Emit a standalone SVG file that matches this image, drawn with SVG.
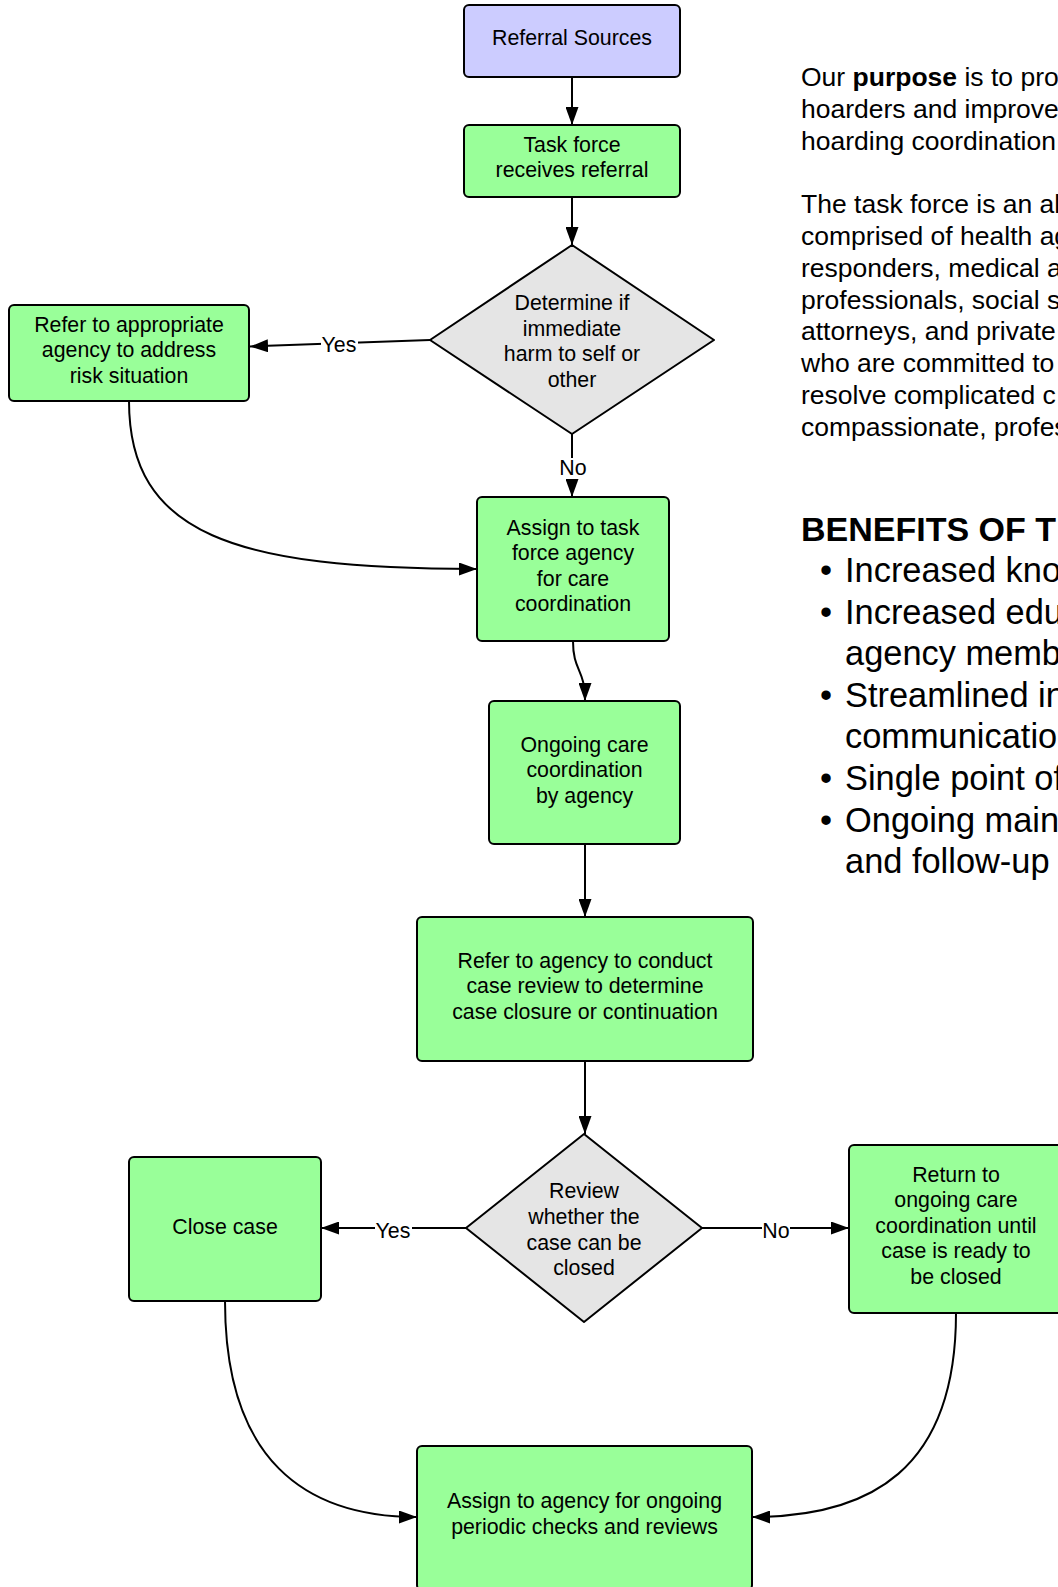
<svg xmlns="http://www.w3.org/2000/svg" width="1058" height="1587" viewBox="0 0 1058 1587">
<defs>
<marker id="arr" markerUnits="userSpaceOnUse" markerWidth="18" markerHeight="13" refX="18" refY="6.5" orient="auto">
<path d="M0,0 L18,6.5 L0,13 z" fill="#000"/>
</marker>
<style>
.box{fill:#99ff99;stroke:#000;stroke-width:2}
.src{fill:#ccccff;stroke:#000;stroke-width:2}
.dia{fill:#e5e5e5;stroke:#000;stroke-width:2;stroke-linejoin:round}
.t{font-family:"Liberation Sans",Arial,sans-serif;font-size:21.33px;fill:#000;text-anchor:middle}
.c{fill:none;stroke:#000;stroke-width:2;marker-end:url(#arr)}
.lbg{fill:#fff}
.p{font-family:"Liberation Sans",Arial,sans-serif;font-size:26.5px;fill:#000}
.h{font-family:"Liberation Sans",Arial,sans-serif;font-size:34px;font-weight:bold;fill:#000}
.b{font-family:"Liberation Sans",Arial,sans-serif;font-size:34.4px;fill:#000}
</style>
</defs>
<rect width="1058" height="1587" fill="#fff"/>

<g id="connectors">
<path class="c" d="M572,77 L572,125"/>
<path class="c" d="M572,197 L572,245"/>
<path class="c" d="M430,340 L250,346.5"/>
<path class="c" d="M572,434 L572,497"/>
<path class="c" d="M129,401 C129,535 235,569 477,569"/>
<path class="c" d="M573,641 C573,672 585,668 585,701"/>
<path class="c" d="M585,844 L585,917"/>
<path class="c" d="M585,1061 L585,1134"/>
<path class="c" d="M466,1228 L321,1228"/>
<path class="c" d="M702,1228 L849,1228"/>
<path class="c" d="M225,1301 C225,1460 305,1517 417,1517"/>
<path class="c" d="M956,1313 C956,1470 870,1517 752,1517"/>
<rect class="lbg" x="321" y="334" width="37" height="21"/>
<text class="t" x="339" y="352">Yes</text>
<rect class="lbg" x="559" y="458" width="28" height="21"/>
<text class="t" x="573" y="475">No</text>
<rect class="lbg" x="375" y="1220" width="37" height="21"/>
<text class="t" x="393" y="1238">Yes</text>
<rect class="lbg" x="762" y="1220" width="28" height="21"/>
<text class="t" x="776" y="1238">No</text>
</g>

<g id="referral-sources">
<rect class="src" x="464" y="5" width="216" height="72" rx="5"/>
<text class="t" x="572" y="45">Referral Sources</text>
</g>

<g id="task-force-receives">
<rect class="box" x="464" y="125" width="216" height="72" rx="5"/>
<text class="t" x="572" y="151.5">Task force</text>
<text class="t" x="572" y="177">receives referral</text>
</g>

<g id="determine-harm">
<polygon class="dia" points="572,245 714,340 572,434 430,340"/>
<text class="t" x="572" y="310">Determine if</text>
<text class="t" x="572" y="335.6">immediate</text>
<text class="t" x="572" y="361.2">harm to self or</text>
<text class="t" x="572" y="386.8">other</text>
</g>

<g id="refer-appropriate">
<rect class="box" x="9" y="305" width="240" height="96" rx="5"/>
<text class="t" x="129" y="331.5">Refer to appropriate</text>
<text class="t" x="129" y="357.1">agency to address</text>
<text class="t" x="129" y="382.7">risk situation</text>
</g>

<g id="assign-task-force">
<rect class="box" x="477" y="497" width="192" height="144" rx="5"/>
<text class="t" x="573" y="534.5">Assign to task</text>
<text class="t" x="573" y="560.1">force agency</text>
<text class="t" x="573" y="585.7">for care</text>
<text class="t" x="573" y="611.3">coordination</text>
</g>

<g id="ongoing-care">
<rect class="box" x="489" y="701" width="191" height="143" rx="5"/>
<text class="t" x="584.5" y="751.5">Ongoing care</text>
<text class="t" x="584.5" y="777.1">coordination</text>
<text class="t" x="584.5" y="802.7">by agency</text>
</g>

<g id="refer-case-review">
<rect class="box" x="417" y="917" width="336" height="144" rx="5"/>
<text class="t" x="585" y="967.5">Refer to agency to conduct</text>
<text class="t" x="585" y="993.1">case review to determine</text>
<text class="t" x="585" y="1018.7">case closure or continuation</text>
</g>

<g id="review-closed">
<polygon class="dia" points="584,1134 702,1228 584,1322 466,1228"/>
<text class="t" x="584" y="1198.3">Review</text>
<text class="t" x="584" y="1223.9">whether the</text>
<text class="t" x="584" y="1249.5">case can be</text>
<text class="t" x="584" y="1275.1">closed</text>
</g>

<g id="close-case">
<rect class="box" x="129" y="1157" width="192" height="144" rx="5"/>
<text class="t" x="225" y="1233.5">Close case</text>
</g>

<g id="return-ongoing">
<rect class="box" x="849" y="1145" width="214" height="168" rx="5"/>
<text class="t" x="956" y="1181.5">Return to</text>
<text class="t" x="956" y="1207.1">ongoing care</text>
<text class="t" x="956" y="1232.7">coordination until</text>
<text class="t" x="956" y="1258.3">case is ready to</text>
<text class="t" x="956" y="1283.9">be closed</text>
</g>

<g id="assign-periodic">
<rect class="box" x="417" y="1446" width="335" height="144" rx="5"/>
<text class="t" x="584.5" y="1508">Assign to agency for ongoing</text>
<text class="t" x="584.5" y="1533.6">periodic checks and reviews</text>
</g>

<g id="purpose-text">
<text class="p" x="801" y="86">Our <tspan font-weight="bold">purpose</tspan> is to pro</text>
<text class="p" x="801" y="117.8">hoarders and improve</text>
<text class="p" x="801" y="149.6">hoarding coordination</text>
<text class="p" x="801" y="213.2">The task force is an al</text>
<text class="p" x="801" y="245">comprised of health ag</text>
<text class="p" x="801" y="276.8">responders, medical a</text>
<text class="p" x="801" y="308.6">professionals, social s</text>
<text class="p" x="801" y="340.4">attorneys, and private</text>
<text class="p" x="801" y="372.2">who are committed to</text>
<text class="p" x="801" y="404">resolve complicated c</text>
<text class="p" x="801" y="435.8">compassionate, profes</text>
</g>

<g id="benefits-text">
<text class="h" x="801" y="541">BENEFITS OF T</text>
<text class="b" x="820" y="582">•</text>
<text class="b" x="845" y="582">Increased kno</text>
<text class="b" x="820" y="623.6">•</text>
<text class="b" x="845" y="623.6">Increased edu</text>
<text class="b" x="845" y="665.2">agency memb</text>
<text class="b" x="820" y="706.8">•</text>
<text class="b" x="845" y="706.8">Streamlined in</text>
<text class="b" x="845" y="748.4">communicatio</text>
<text class="b" x="820" y="790">•</text>
<text class="b" x="845" y="790">Single point of</text>
<text class="b" x="820" y="831.6">•</text>
<text class="b" x="845" y="831.6">Ongoing main</text>
<text class="b" x="845" y="873.2">and follow-up</text>
</g>
</svg>
